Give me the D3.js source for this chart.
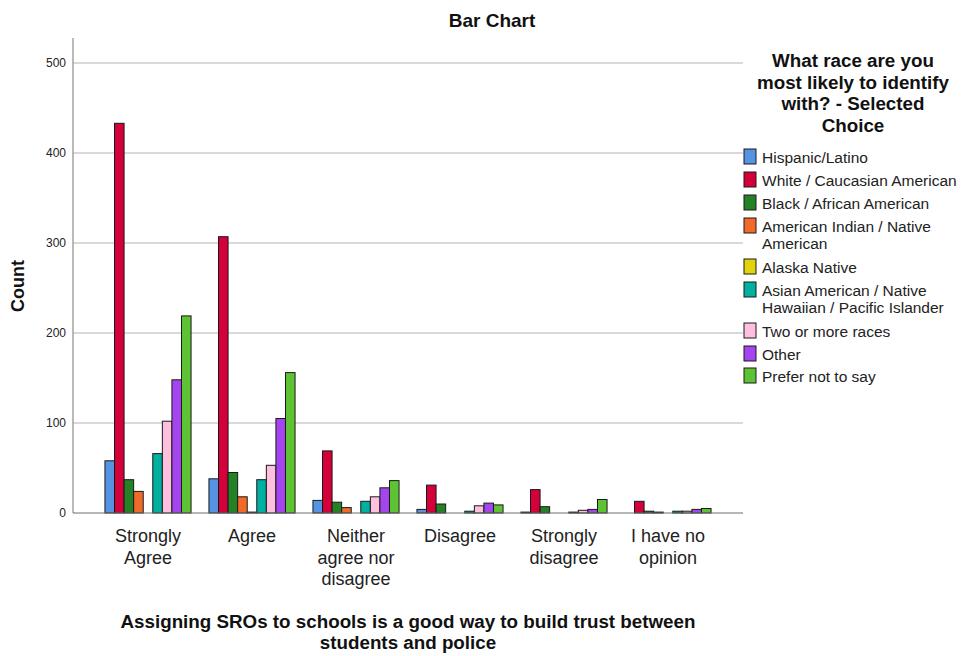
<!DOCTYPE html>
<html><head><meta charset="utf-8">
<script src="https://cdn.jsdelivr.net/npm/d3@7"></script>
<style>
html,body{margin:0;padding:0;background:#fff;}
text{font-family:"Liberation Sans",Arial,sans-serif;}
</style></head>
<body>
<svg id="chart" width="961" height="656"></svg>
<script>
const categories = [["Strongly","Agree"],["Agree"],["Neither","agree nor","disagree"],["Disagree"],["Strongly","disagree"],["I have no","opinion"]];
const seriesNames = [["Hispanic/Latino"],["White / Caucasian American"],["Black / African American"],["American Indian / Native","American"],["Alaska Native"],["Asian American / Native","Hawaiian / Pacific Islander"],["Two or more races"],["Other"],["Prefer not to say"]];
const seriesColors = ["#5593E3","#D4003A","#248126","#F26A2A","#E2D30C","#00B0A0","#FFC0E0","#A445F0","#5DC234"];
const hispanic = [58, 38, 14, 4, 1, 0];
const white = [433, 307, 69, 31, 26, 13];
const black = [37, 45, 12, 10, 7, 2];
const amIndian = [24, 18, 6, 0, 0, 1];
const alaska = [0, 1, 0, 0, 0, 0];
const asian = [66, 37, 13, 2, 1, 2];
const twoMore = [102, 53, 18, 8, 3, 2];
const other = [148, 105, 28, 11, 4, 4];
const preferNot = [219, 156, 36, 9, 15, 5];
const yTicks = [0, 100, 200, 300, 400, 500];

const series = [hispanic, white, black, amIndian, alaska, asian, twoMore, other, preferNot];

const svg = d3.select("#chart");
const plotL = 73, plotR = 743, plotT = 38, plotB = 513;

const x = d3.scaleBand().domain(d3.range(categories.length)).range([96, 720]).paddingInner(0.172).paddingOuter(0.086);
const xi = d3.scaleBand().domain(d3.range(series.length)).range([0, x.bandwidth()]);
const y = d3.scaleLinear().domain([0, 500]).range([plotB, 63]);

// gridlines
svg.append("g").selectAll("line").data(yTicks.filter(d => d > 0)).join("line")
  .attr("x1", plotL).attr("x2", plotR).attr("y1", d => y(d)).attr("y2", d => y(d))
  .attr("stroke", "#b4b4b4").attr("stroke-width", 1.2);

// y axis
const yAxis = svg.append("g").attr("transform", `translate(${plotL},0)`)
  .call(d3.axisLeft(y).tickValues(yTicks).tickSize(0).tickPadding(7));
yAxis.select(".domain").remove();
yAxis.selectAll("text").attr("font-size", 12).attr("fill", "#222").attr("font-family", "'Liberation Sans',Arial,sans-serif");

// bars
const groups = svg.append("g").selectAll("g").data(categories).join("g")
  .attr("transform", (d, i) => `translate(${x(i)},0)`);
groups.selectAll("rect").data((d, ci) => series.map((s, si) => ({si, v: s[ci]}))).join("rect")
  .attr("x", d => xi(d.si)).attr("width", xi.bandwidth())
  .attr("y", d => y(d.v)).attr("height", d => y(0) - y(d.v))
  .attr("fill", d => seriesColors[d.si]).attr("stroke", "#1a1a1a").attr("stroke-width", 1);

// axis lines
svg.append("line").attr("x1", plotL).attr("x2", plotL).attr("y1", plotT).attr("y2", plotB).attr("stroke", "#8c8c8c").attr("stroke-width", 1.2);
svg.append("line").attr("x1", plotL).attr("x2", plotR).attr("y1", plotB).attr("y2", plotB).attr("stroke", "#6e6e6e").attr("stroke-width", 1.2);

// x labels
const xl = svg.append("g").selectAll("text").data(categories).join("text")
  .attr("x", (d, i) => x(i) + x.bandwidth() / 2).attr("y", 542)
  .attr("text-anchor", "middle").attr("font-size", 18).attr("fill", "#222");
xl.selectAll("tspan").data(d => d).join("tspan")
  .attr("x", function() { return this.parentNode.getAttribute("x"); })
  .attr("dy", (d, i) => i === 0 ? 0 : 21.5).text(d => d);

// titles
svg.append("text").attr("x", 492).attr("y", 27).attr("text-anchor", "middle")
  .attr("font-size", 19).attr("font-weight", "bold").attr("fill", "#111").text("Bar Chart");
svg.append("text").attr("transform", "translate(24,286) rotate(-90)").attr("text-anchor", "middle")
  .attr("font-size", 18).attr("font-weight", "bold").attr("fill", "#111").text("Count");
const xt = svg.append("text").attr("x", 408).attr("y", 628).attr("text-anchor", "middle")
  .attr("font-size", 18.8).attr("font-weight", "bold").attr("fill", "#111");
xt.append("tspan").attr("x", 408).attr("dy", 0).text("Assigning SROs to schools is a good way to build trust between");
xt.append("tspan").attr("x", 408).attr("dy", 21).text("students and police");

// legend
const legendTitle = ["What race are you", "most likely to identify", "with? - Selected", "Choice"];
svg.append("g").selectAll("text").data(legendTitle).join("text")
  .attr("x", 853).attr("y", (d, i) => 67 + i * 21.5).attr("text-anchor", "middle")
  .attr("font-size", 18.8).attr("font-weight", "bold").attr("fill", "#111").text(d => d);

const itemY = [158, 181, 204, 227, 268, 291, 332, 355, 377];
const leg = svg.append("g").selectAll("g").data(seriesNames).join("g")
  .attr("transform", (d, i) => `translate(744,${itemY[i]})`);
leg.append("rect").attr("x", 0).attr("y", -9).attr("width", 12).attr("height", 15)
  .attr("fill", (d, i) => seriesColors[i]).attr("stroke", "#1a1a1a").attr("stroke-width", 1);
leg.append("text").attr("x", 18).attr("y", 5).attr("font-size", 15.5).attr("fill", "#222")
  .selectAll("tspan").data(d => d).join("tspan").attr("x", 18).attr("dy", (d, i) => i === 0 ? 0 : 17).text(d => d);
</script>
</body></html>
